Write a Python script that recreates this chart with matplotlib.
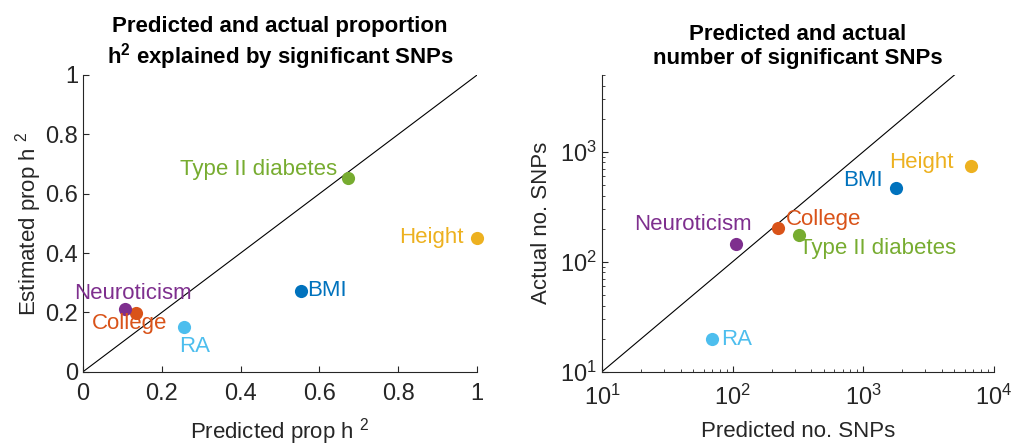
import matplotlib
matplotlib.use("Agg")
import matplotlib.pyplot as plt
import numpy as np
from matplotlib.ticker import LogLocator, NullFormatter

plt.rcParams['font.family'] = ['Liberation Sans', 'DejaVu Sans']
plt.rcParams['mathtext.fontset'] = 'custom'
plt.rcParams['mathtext.rm'] = 'Liberation Sans'
plt.rcParams['mathtext.default'] = 'regular'

traits = ['BMI', 'College', 'Height', 'Neuroticism', 'Type II diabetes', 'RA']
colors = ['#0072BD', '#D95319', '#EDB120', '#7E2F8E', '#77AC30', '#4DBEEE']

# Left panel: proportion of h2
pred_prop = [0.552, 0.135, 1.0, 0.106, 0.673, 0.256]
est_prop = [0.273, 0.197, 0.451, 0.213, 0.654, 0.152]

# Right panel: number of SNPs
pred_n = [1796, 223, 6703, 107, 321, 69.6]
act_n = [471, 204, 746, 144, 175, 19.8]

# label placements (data coords, ha)
left_lab = {
    'BMI': (0.569, 0.275, 'left'),
    'College': (0.118, 0.163, 'center'),
    'Height': (0.965, 0.451, 'right'),
    'Neuroticism': (0.127, 0.264, 'center'),
    'Type II diabetes': (0.645, 0.68, 'right'),
    'RA': (0.243, 0.084, 'left'),
}
right_lab = {
    'BMI': (1413, 552, 'right'),
    'College': (258, 244, 'left'),
    'Height': (4943, 794, 'right'),
    'Neuroticism': (50, 220, 'center'),
    'Type II diabetes': (321, 132, 'left'),
    'RA': (82, 19.8, 'left'),
}

fig = plt.figure(figsize=(10.14, 4.48), dpi=100)
ax1 = fig.add_axes([0.0819, 0.1703, 0.3886, 0.6623])
ax2 = fig.add_axes([0.5937, 0.1703, 0.3863, 0.6623])

FS = 16
TFS = 17

for ax in (ax1, ax2):
    ax.spines['top'].set_visible(False)
    ax.spines['right'].set_visible(False)
    for s in ('left', 'bottom'):
        ax.spines[s].set_color('#262626')
        ax.spines[s].set_linewidth(0.8)
    ax.tick_params(direction='in', labelsize=TFS, colors='#262626', length=4, width=0.8)
    ax.tick_params(which='minor', direction='in', length=2.5, width=0.6, colors='#262626')

# Left
ax1.plot([0, 1], [0, 1], color='black', lw=0.8, zorder=1)
for t, x, y, c in zip(traits, pred_prop, est_prop, colors):
    ax1.scatter(x, y, s=90, color=c, zorder=3, clip_on=False, linewidths=0)
    lx, ly, ha = left_lab[t]
    ax1.text(lx, ly, t, color=c, fontsize=FS, ha=ha, va='center', zorder=4)
ax1.set_xlim(0, 1)
ax1.set_ylim(0, 1)
ax1.set_xticks([0, 0.2, 0.4, 0.6, 0.8, 1])
ax1.set_yticks([0, 0.2, 0.4, 0.6, 0.8, 1])
ax1.set_xticklabels(['0', '0.2', '0.4', '0.6', '0.8', '1'])
ax1.set_yticklabels(['0', '0.2', '0.4', '0.6', '0.8', '1'])
ax1.tick_params(axis='x', pad=8)
ax1.set_xlabel('Predicted prop h $^{2}$', fontsize=FS, color='#262626', labelpad=8)
ax1.set_ylabel('Estimated prop h $^{2}$', fontsize=FS, color='#262626', labelpad=1)
ax1.set_title('Predicted and actual proportion\nh$^{2}$ explained by significant SNPs',
              fontsize=FS, fontweight='bold', pad=8)

# Right
ax2.set_xscale('log')
ax2.set_yscale('log')
ax2.plot([10, 5000], [10, 5000], color='black', lw=0.8, zorder=1)
for t, x, y, c in zip(traits, pred_n, act_n, colors):
    ax2.scatter(x, y, s=90, color=c, zorder=3, clip_on=False, linewidths=0)
    lx, ly, ha = right_lab[t]
    ax2.text(lx, ly, t, color=c, fontsize=FS, ha=ha, va='center', zorder=4)
ax2.set_xlim(10, 10000)
ax2.set_ylim(10, 5000)
ax2.set_xticks([10, 100, 1000, 10000])
ax2.set_yticks([10, 100, 1000])
ax2.xaxis.set_minor_locator(LogLocator(base=10, subs=np.arange(2, 10)))
ax2.yaxis.set_minor_locator(LogLocator(base=10, subs=np.arange(2, 10)))
ax2.xaxis.set_minor_formatter(NullFormatter())
ax2.yaxis.set_minor_formatter(NullFormatter())
ax2.tick_params(axis='x', pad=9)
ax2.set_xlabel('Predicted no. SNPs', fontsize=FS, color='#262626', labelpad=8)
ax2.set_ylabel('Actual no. SNPs', fontsize=FS, color='#262626', labelpad=6)
ax2.set_title('Predicted and actual\nnumber of significant SNPs',
              fontsize=FS, fontweight='bold', pad=8)

fig.savefig('out.png', dpi=100)
